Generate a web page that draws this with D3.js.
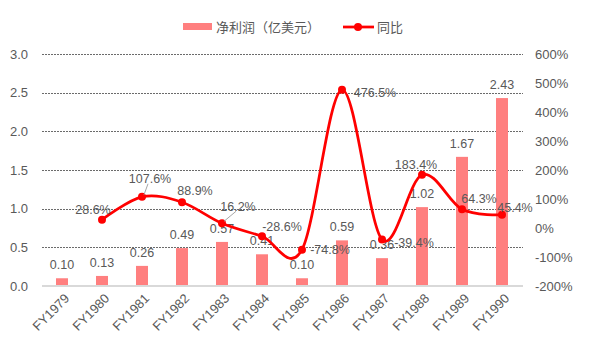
<!DOCTYPE html>
<html>
<head>
<meta charset="utf-8">
<script src="https://cdn.jsdelivr.net/npm/d3@7"></script>
<style>
  body { margin: 0; background: #fff; }
  text { font-family: "Liberation Sans", Arial, "Noto Sans CJK SC", sans-serif; fill: #595959; }
</style>
</head>
<body>
<div id="chart"></div>
<script>
const years = ["FY1979", "FY1980", "FY1981", "FY1982", "FY1983", "FY1984",
               "FY1985", "FY1986", "FY1987", "FY1988", "FY1989", "FY1990"];
const profit = [0.10, 0.13, 0.26, 0.49, 0.57, 0.41, 0.10, 0.59, 0.36, 1.02, 1.67, 2.43];
const growth = [null, 28.6, 107.6, 88.9, 16.2, -28.6, -74.8, 476.5, -39.4, 183.4, 64.3, 45.4];
const leftTicks = [0, 0.5, 1.0, 1.5, 2.0, 2.5, 3.0];
const rightTicks = [-200, -100, 0, 100, 200, 300, 400, 500, 600];

// label placement for the growth labels (dx, dy from point), leader line flag
const growthLabelPos = {
  "FY1980": [-9, -10, false], "FY1981": [8, -18, true], "FY1982": [13, -12, false],
  "FY1983": [16, -17, true], "FY1984": [20, -10, false], "FY1985": [28, 0, false],
  "FY1986": [33, 3, false], "FY1987": [32, 3, false], "FY1988": [-6, -10, false],
  "FY1989": [17, -11, false], "FY1990": [13, -7, false]
};

let svg = d3.select("#chart").append("svg")
    .attr("width", 595)
    .attr("height", 358);

const plotTop = 54, plotBottom = 286, plotLeft = 42, plotRight = 522;

let x = d3.scaleBand().domain(years).range([plotLeft, plotRight]);
let yL = d3.scaleLinear().domain([0, 3]).range([plotBottom, plotTop]);
let yR = d3.scaleLinear().domain([-200, 600]).range([plotBottom, plotTop]);

// grid lines
svg.append("g").selectAll("line")
    .data(leftTicks.filter(d => d > 0))
    .enter().append("line")
    .attr("x1", plotLeft).attr("x2", plotRight + 1)
    .attr("y1", d => Math.round(yL(d)) + 0.5)
    .attr("y2", d => Math.round(yL(d)) + 0.5)
    .attr("stroke", "#6b6b6b")
    .attr("stroke-width", 1)
    .attr("stroke-dasharray", "2,1");

// left axis
let axL = svg.append("g")
    .attr("transform", "translate(" + plotLeft + ",0)")
    .call(d3.axisLeft(yL).tickValues(leftTicks).tickFormat(d3.format(".1f")).tickSize(0).tickPadding(14));
axL.select(".domain").remove();
axL.selectAll("text").style("font-size", "13px").attr("fill", "#595959");

// right axis
let axR = svg.append("g")
    .attr("transform", "translate(" + (plotRight + 13) + ",0)")
    .call(d3.axisRight(yR).tickValues(rightTicks).tickFormat(d => d + "%").tickSize(0).tickPadding(0));
axR.select(".domain").remove();
axR.selectAll("text").style("font-size", "13px").attr("fill", "#595959");

// bars
const barW = 12;
svg.append("g").selectAll("rect")
    .data(profit)
    .enter().append("rect")
    .attr("x", (d, i) => x(years[i]) + x.bandwidth() / 2 - barW / 2)
    .attr("y", d => yL(d))
    .attr("width", barW)
    .attr("height", d => yL(0) - yL(d))
    .attr("fill", "#ff7f7f");

// base line
svg.append("line")
    .attr("x1", plotLeft).attr("x2", plotRight + 1)
    .attr("y1", yL(0)).attr("y2", yL(0))
    .attr("stroke", "#d9d9d9")
    .attr("stroke-width", 2);

// bar labels
svg.append("g").selectAll("text")
    .data(profit)
    .enter().append("text")
    .attr("x", (d, i) => x(years[i]) + x.bandwidth() / 2)
    .attr("y", d => yL(d) - 9)
    .attr("text-anchor", "middle")
    .style("font-size", "12.5px")
    .text(d => d.toFixed(2));

// x axis labels
svg.append("g").selectAll("text")
    .data(years)
    .enter().append("text")
    .attr("transform", d => "translate(" + (x(d) + x.bandwidth() / 2 + 5) + "," + (plotBottom + 10) + ") rotate(-45)")
    .attr("text-anchor", "end")
    .attr("dy", "0.35em")
    .style("font-size", "13px")
    .text(d => d);

// growth line
let pts = years.map((d, i) => ({ year: d, v: growth[i] })).filter(d => d.v !== null);
let line = d3.line()
    .x(d => x(d.year) + x.bandwidth() / 2)
    .y(d => yR(d.v))
    .curve(d3.curveCardinal.tension(0));

svg.append("path")
    .datum(pts)
    .attr("d", line)
    .attr("fill", "none")
    .attr("stroke", "#ff0000")
    .attr("stroke-width", 2.75);

svg.append("g").selectAll("circle")
    .data(pts)
    .enter().append("circle")
    .attr("cx", d => x(d.year) + x.bandwidth() / 2)
    .attr("cy", d => yR(d.v))
    .attr("r", 4)
    .attr("fill", "#ff0000");

// growth labels
let gl = svg.append("g").selectAll("g")
    .data(pts)
    .enter().append("g")
    .attr("transform", d => "translate(" + (x(d.year) + x.bandwidth() / 2) + "," + yR(d.v) + ")");

gl.filter(d => growthLabelPos[d.year][2])
    .append("line")
    .attr("x1", 2).attr("y1", -2)
    .attr("x2", d => growthLabelPos[d.year][0] - 2)
    .attr("y2", d => growthLabelPos[d.year][1] + 5)
    .attr("stroke", "#a6a6a6")
    .attr("stroke-width", 1);

gl.append("text")
    .attr("x", d => growthLabelPos[d.year][0])
    .attr("y", d => growthLabelPos[d.year][1])
    .attr("dy", "0.35em")
    .attr("text-anchor", "middle")
    .style("font-size", "12.5px")
    .text(d => d.v.toFixed(1) + "%");

// legend
let lg = svg.append("g");
lg.append("rect")
    .attr("x", 183).attr("y", 23)
    .attr("width", 29).attr("height", 7)
    .attr("fill", "#ff7f7f");
lg.append("text")
    .attr("x", 216).attr("y", 27).attr("dy", "0.35em")
    .style("font-size", "13px")
    .text("净利润（亿美元）");
lg.append("line")
    .attr("x1", 343).attr("x2", 374)
    .attr("y1", 27).attr("y2", 27)
    .attr("stroke", "#ff0000").attr("stroke-width", 2.75);
lg.append("circle")
    .attr("cx", 358).attr("cy", 27).attr("r", 4)
    .attr("fill", "#ff0000");
lg.append("text")
    .attr("x", 377).attr("y", 27).attr("dy", "0.35em")
    .style("font-size", "13px")
    .text("同比");
</script>
</body>
</html>
